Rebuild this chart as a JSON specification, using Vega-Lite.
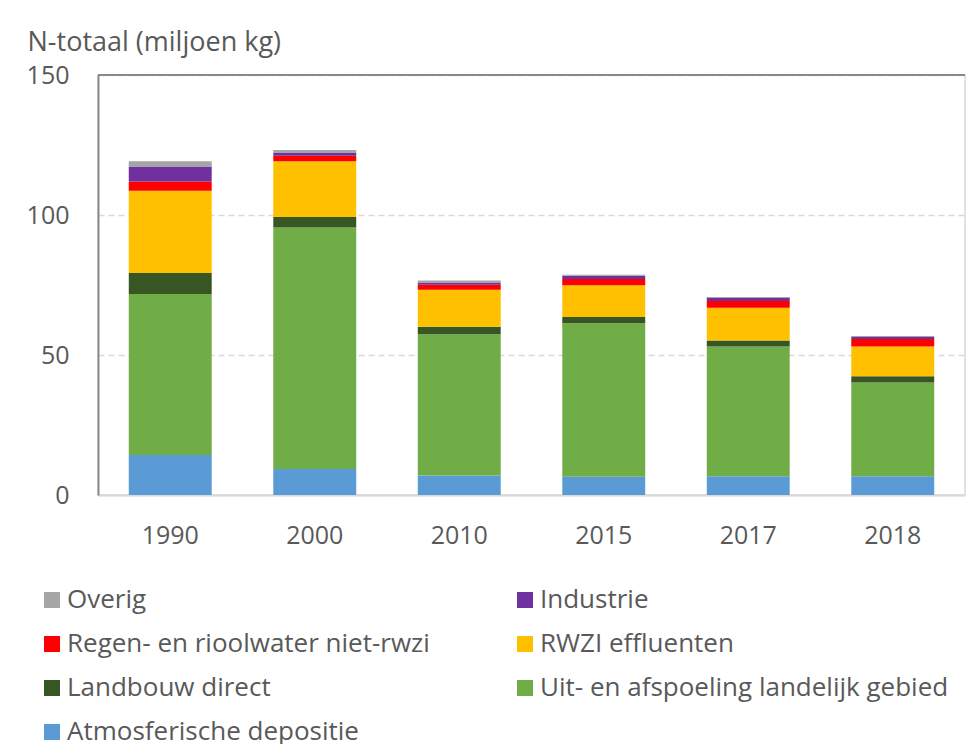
{
  "$schema": "https://vega.github.io/schema/vega-lite/v6.json",
  "autosize": "none",
  "width": 867,
  "height": 420,
  "padding": {"left": 98, "top": 75, "right": 2, "bottom": 249},
  "background": "white",
  "config": {
    "font": "Open Sans",
    "view": {"stroke": "#d9d9d9", "strokeWidth": 1.5},
    "axis": {"labelFont": "Open Sans", "titleFont": "Open Sans", "labelColor": "#595959", "titleColor": "#595959"},
    "legend": {"labelFont": "Open Sans"}
  },
  "data": {
    "values": [
      {"jaar": "1990", "bron": "Atmosferische depositie", "waarde": 14.3, "volg": 1},
      {"jaar": "1990", "bron": "Uit- en afspoeling landelijk gebied", "waarde": 57.5, "volg": 2},
      {"jaar": "1990", "bron": "Landbouw direct", "waarde": 7.5, "volg": 3},
      {"jaar": "1990", "bron": "RWZI effluenten", "waarde": 29.4, "volg": 4},
      {"jaar": "1990", "bron": "Regen- en rioolwater niet-rwzi", "waarde": 3.3, "volg": 5},
      {"jaar": "1990", "bron": "Industrie", "waarde": 5.3, "volg": 6},
      {"jaar": "1990", "bron": "Overig", "waarde": 1.9, "volg": 7},
      {"jaar": "2000", "bron": "Atmosferische depositie", "waarde": 9.3, "volg": 1},
      {"jaar": "2000", "bron": "Uit- en afspoeling landelijk gebied", "waarde": 86.2, "volg": 2},
      {"jaar": "2000", "bron": "Landbouw direct", "waarde": 3.8, "volg": 3},
      {"jaar": "2000", "bron": "RWZI effluenten", "waarde": 19.9, "volg": 4},
      {"jaar": "2000", "bron": "Regen- en rioolwater niet-rwzi", "waarde": 2.0, "volg": 5},
      {"jaar": "2000", "bron": "Industrie", "waarde": 0.9, "volg": 6},
      {"jaar": "2000", "bron": "Overig", "waarde": 1.1, "volg": 7},
      {"jaar": "2010", "bron": "Atmosferische depositie", "waarde": 7.0, "volg": 1},
      {"jaar": "2010", "bron": "Uit- en afspoeling landelijk gebied", "waarde": 50.4, "volg": 2},
      {"jaar": "2010", "bron": "Landbouw direct", "waarde": 2.7, "volg": 3},
      {"jaar": "2010", "bron": "RWZI effluenten", "waarde": 13.2, "volg": 4},
      {"jaar": "2010", "bron": "Regen- en rioolwater niet-rwzi", "waarde": 1.8, "volg": 5},
      {"jaar": "2010", "bron": "Industrie", "waarde": 0.8, "volg": 6},
      {"jaar": "2010", "bron": "Overig", "waarde": 0.7, "volg": 7},
      {"jaar": "2015", "bron": "Atmosferische depositie", "waarde": 6.5, "volg": 1},
      {"jaar": "2015", "bron": "Uit- en afspoeling landelijk gebied", "waarde": 54.8, "volg": 2},
      {"jaar": "2015", "bron": "Landbouw direct", "waarde": 2.3, "volg": 3},
      {"jaar": "2015", "bron": "RWZI effluenten", "waarde": 11.3, "volg": 4},
      {"jaar": "2015", "bron": "Regen- en rioolwater niet-rwzi", "waarde": 2.2, "volg": 5},
      {"jaar": "2015", "bron": "Industrie", "waarde": 1.2, "volg": 6},
      {"jaar": "2015", "bron": "Overig", "waarde": 0.4, "volg": 7},
      {"jaar": "2017", "bron": "Atmosferische depositie", "waarde": 6.7, "volg": 1},
      {"jaar": "2017", "bron": "Uit- en afspoeling landelijk gebied", "waarde": 46.3, "volg": 2},
      {"jaar": "2017", "bron": "Landbouw direct", "waarde": 2.2, "volg": 3},
      {"jaar": "2017", "bron": "RWZI effluenten", "waarde": 11.7, "volg": 4},
      {"jaar": "2017", "bron": "Regen- en rioolwater niet-rwzi", "waarde": 2.4, "volg": 5},
      {"jaar": "2017", "bron": "Industrie", "waarde": 1.1, "volg": 6},
      {"jaar": "2017", "bron": "Overig", "waarde": 0.3, "volg": 7},
      {"jaar": "2018", "bron": "Atmosferische depositie", "waarde": 6.7, "volg": 1},
      {"jaar": "2018", "bron": "Uit- en afspoeling landelijk gebied", "waarde": 33.5, "volg": 2},
      {"jaar": "2018", "bron": "Landbouw direct", "waarde": 2.2, "volg": 3},
      {"jaar": "2018", "bron": "RWZI effluenten", "waarde": 10.6, "volg": 4},
      {"jaar": "2018", "bron": "Regen- en rioolwater niet-rwzi", "waarde": 2.7, "volg": 5},
      {"jaar": "2018", "bron": "Industrie", "waarde": 0.7, "volg": 6},
      {"jaar": "2018", "bron": "Overig", "waarde": 0.4, "volg": 7}
    ]
  },
  "layer": [
    {
      "mark": {"type": "bar"},
      "encoding": {
        "x": {
          "field": "jaar", "type": "nominal", "title": null,
          "scale": {"paddingInner": 0.426, "paddingOuter": 0.213},
          "axis": {"labelAngle": 0, "labelFontSize": 25, "labelPadding": 28, "ticks": false, "domainColor": "#d9d9d9", "domainWidth": 2}
        },
        "y": {
          "field": "waarde", "type": "quantitative", "stack": "zero",
          "scale": {"domain": [0, 150], "nice": false},
          "axis": {
            "values": [0, 50, 100, 150], "labelFontSize": 25, "labelPadding": 29, "ticks": false,
            "domainColor": "#898989", "domainWidth": 2,
            "gridColor": "#d9d9d9", "gridDash": [6, 4], "gridWidth": 1.5,
            "title": "N-totaal (miljoen kg)", "titleAngle": 0, "titleAlign": "left", "titleBaseline": "middle",
            "titleX": -71, "titleY": -33, "titleFontSize": 27, "titleFontWeight": "normal"
          }
        },
        "color": {
          "field": "bron", "type": "nominal",
          "scale": {
            "domain": ["Overig", "Industrie", "Regen- en rioolwater niet-rwzi", "RWZI effluenten", "Landbouw direct", "Uit- en afspoeling landelijk gebied", "Atmosferische depositie"],
            "range": ["#A5A5A5", "#7030A0", "#FF0000", "#FFC000", "#375623", "#70AD47", "#5B9BD5"]
          },
          "legend": {
            "title": null, "orient": "none", "legendX": -59, "legendY": 512,
            "columns": 2, "direction": "horizontal", "gridAlign": "all", "columnPadding": 36, "rowPadding": 18,
            "symbolType": "square", "symbolSize": 256, "symbolStrokeWidth": 0, "symbolOpacity": 1,
            "labelFontSize": 26, "labelColor": "#595959", "labelOffset": 2, "labelLimit": 600
          }
        },
        "order": {"field": "volg", "type": "quantitative"}
      }
    },
    {
      "mark": {"type": "rule", "color": "#898989", "strokeWidth": 2},
      "encoding": {"y": {"datum": 150}}
    }
  ]
}
